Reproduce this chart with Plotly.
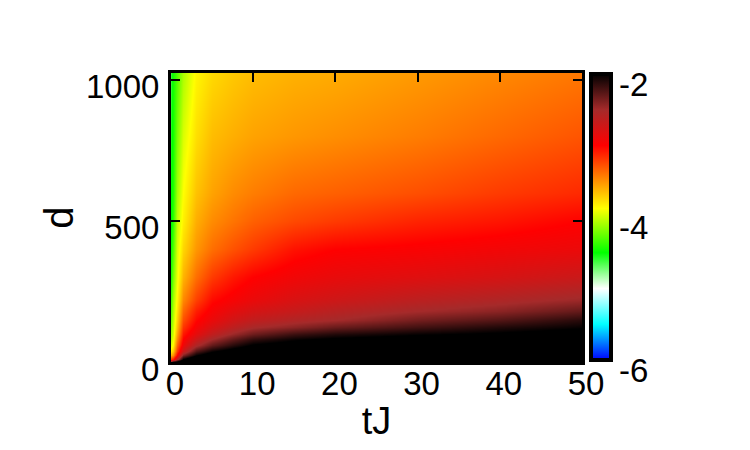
import plotly.graph_objects as go

t_values = [0, 0.3, 0.7, 1.5, 3, 5, 7.5, 10, 15, 20, 30, 40, 50]
d_values = [0, 10, 25, 40, 60, 80, 100, 125, 150, 180, 220, 300, 400, 500, 600, 800, 1024]
# log10 values, one row per d, estimated from the picture's colours
z_values = [
    [-2.2, -1.9, -1.8, -1.6, -1.5, -1.5, -1.5, -1.5, -1.5, -1.5, -1.5, -1.5, -1.5],
    [-3.2, -3.1, -2.6, -2.0, -1.7, -1.6, -1.55, -1.5, -1.5, -1.5, -1.5, -1.5, -1.5],
    [-3.6, -3.5, -3.0, -2.4, -2.02, -1.85, -1.7, -1.6, -1.5, -1.5, -1.5, -1.5, -1.5],
    [-3.8, -3.7, -3.2, -2.7, -2.25, -2.03, -1.9, -1.8, -1.72, -1.68, -1.6, -1.6, -1.6],
    [-3.95, -3.85, -3.35, -2.9, -2.55, -2.3, -2.12, -1.98, -1.9, -1.85, -1.8, -1.75, -1.7],
    [-4.05, -3.92, -3.48, -3.0, -2.72, -2.5, -2.3, -2.15, -2.03, -1.97, -1.9, -1.85, -1.8],
    [-4.1, -3.97, -3.57, -3.08, -2.85, -2.65, -2.47, -2.33, -2.18, -2.1, -2.02, -1.97, -1.9],
    [-4.15, -4.0, -3.66, -3.18, -2.95, -2.78, -2.63, -2.52, -2.42, -2.32, -2.2, -2.1, -2.02],
    [-4.2, -4.03, -3.72, -3.27, -3.02, -2.88, -2.74, -2.65, -2.56, -2.5, -2.35, -2.25, -2.12],
    [-4.25, -4.06, -3.78, -3.36, -3.1, -2.95, -2.84, -2.76, -2.68, -2.6, -2.5, -2.42, -2.3],
    [-4.3, -4.1, -3.84, -3.47, -3.22, -3.03, -2.95, -2.88, -2.78, -2.72, -2.62, -2.55, -2.47],
    [-4.4, -4.2, -3.92, -3.62, -3.38, -3.2, -3.08, -3.0, -2.92, -2.87, -2.82, -2.77, -2.7],
    [-4.45, -4.3, -3.97, -3.74, -3.52, -3.38, -3.28, -3.2, -3.06, -3.0, -2.97, -2.93, -2.89],
    [-4.5, -4.38, -4.03, -3.83, -3.6, -3.48, -3.4, -3.33, -3.25, -3.2, -3.12, -3.07, -3.0],
    [-4.5, -4.42, -4.1, -3.88, -3.67, -3.56, -3.48, -3.43, -3.36, -3.33, -3.27, -3.2, -3.14],
    [-4.55, -4.45, -4.2, -3.97, -3.77, -3.65, -3.6, -3.56, -3.52, -3.49, -3.43, -3.36, -3.29],
    [-4.6, -4.45, -4.3, -4.08, -3.85, -3.75, -3.69, -3.65, -3.61, -3.59, -3.53, -3.47, -3.41],
]
x_ticks = [0, 10, 20, 30, 40, 50]
y_ticks = [0, 500, 1000]
cbar_ticks = [-2, -4, -6]

palette = [
    [0.0, "#0000ff"], [0.125, "#00ffff"], [0.25, "#ffffff"], [0.375, "#00ff00"],
    [0.53, "#ffff00"], [0.75, "#ff0000"], [0.875, "#a52a2a"], [1.0, "#000000"],
]

FONT = "Liberation Sans, Arial, sans-serif"
PAGE = 8  # the page's own margin
W, H = 750 - PAGE, 450 - PAGE
L, R, T, B = 171 - PAGE, 582 - PAGE, 73 - PAGE, 362 - PAGE
PW, PH = R - L, B - T
CB_L, CB_R, CB_T, CB_B = 591 - PAGE, 611 - PAGE, 74 - PAGE, 360 - PAGE

fig = go.Figure(go.Heatmap(
    x=t_values, y=d_values, z=z_values, zmin=-6, zmax=-2, zsmooth="best",
    colorscale=palette,
    colorbar=dict(
        x=(CB_L - L) / PW, xanchor="left", xpad=0,
        y=1 - (CB_T - T) / PH, yanchor="top", ypad=0,
        len=CB_B - CB_T, lenmode="pixels", thickness=CB_R - CB_L, thicknessmode="pixels",
        outlinewidth=4, outlinecolor="black", borderwidth=0,
        tickmode="array", tickvals=cbar_ticks, showticklabels=False, ticks="",
    ),
))

axis_common = dict(
    showline=True, linecolor="black", linewidth=3, mirror="ticks", ticks="inside",
    ticklen=9, tickwidth=2, tickcolor="black", showgrid=False, zeroline=False,
    tickfont=dict(family=FONT, size=33, color="black"), layer="above traces",
)
fig.update_xaxes(range=[0, 50], tickmode="array", tickvals=x_ticks,
                 ticklabelshift=4, ticklabelstandoff=-10,
                 title=dict(text="tJ", font=dict(family=FONT, size=38, color="black"), standoff=7),
                 **axis_common)
fig.update_yaxes(range=[0, 1024], tickmode="array", tickvals=y_ticks,
                 ticklabelshift=7, ticklabelstandoff=2,
                 title=dict(text="d", font=dict(family=FONT, size=40, color="black"), standoff=0),
                 **axis_common)

for v in cbar_ticks:
    py = CB_B - (v + 6) / 4 * (CB_B - CB_T)
    fig.add_annotation(
        xref="paper", yref="paper", x=(617 - PAGE - L) / PW, y=(B - py) / PH, yshift=-10,
        text=str(v), showarrow=False, xanchor="left", yanchor="middle",
        font=dict(family=FONT, size=33, color="black"),
    )
    if v == -4:
        for a, b in ((CB_L, CB_L + 8), (CB_R - 8, CB_R)):
            fig.add_shape(type="line", xref="paper", yref="paper",
                          x0=(a - L) / PW, x1=(b - L) / PW, y0=(B - py) / PH, y1=(B - py) / PH,
                          line=dict(color="black", width=2))

fig.update_layout(
    width=W, height=H, autosize=False,
    margin=dict(l=L, r=W - R, t=T, b=H - B, autoexpand=False, pad=0),
    paper_bgcolor="white", plot_bgcolor="white", showlegend=False,
)
fig.write_html("out.html")
